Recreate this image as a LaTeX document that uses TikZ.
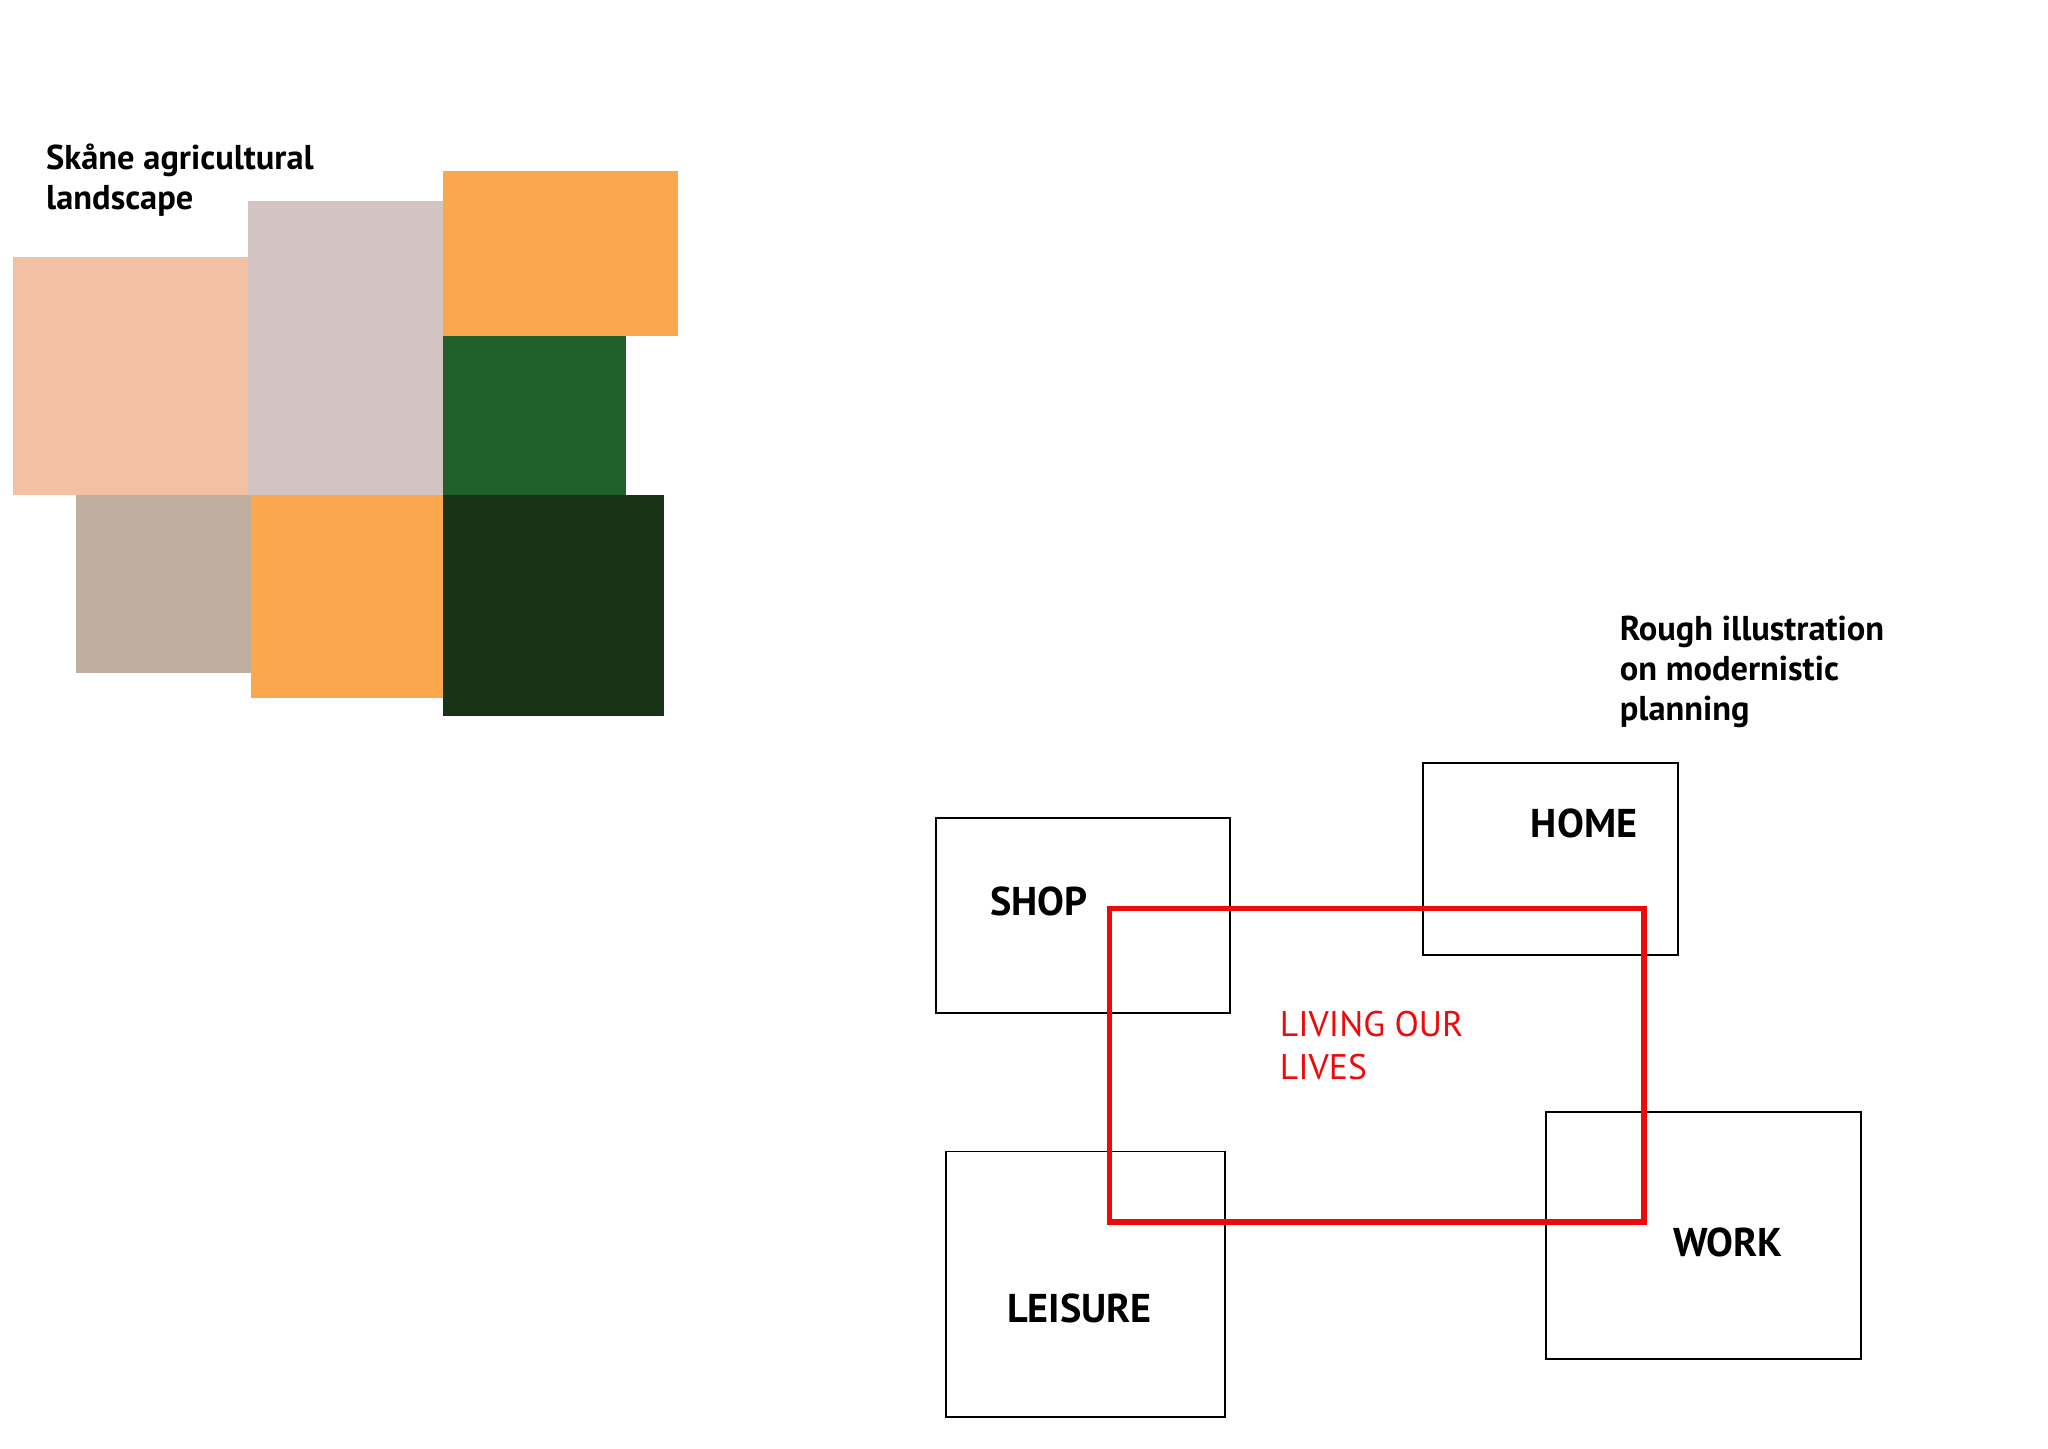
\documentclass[tikz,border=0pt]{standalone}
\usepackage{fontspec}
\setmainfont{PT Sans}
\begin{document}
\begin{tikzpicture}[x=0.02cm,y=-0.02cm,
  lbl/.style={font=\bfseries\fontsize{15}{17.5}\selectfont,align=left,anchor=north west,inner sep=0},
  box/.style={draw=black,line width=0.8pt},
  big/.style={font=\bfseries\fontsize{17.5}{20}\selectfont,inner sep=0}]
\useasboundingbox (0,0) rectangle (1567,1108);
\definecolor{peach}{HTML}{F4C0A4}\definecolor{mauve}{HTML}{D3C4C1}
\definecolor{orng}{HTML}{FAA74E}\definecolor{grn}{HTML}{21602A}
\definecolor{taupe}{HTML}{BDAE9F}\definecolor{dgrn}{HTML}{193317}
\definecolor{rred}{HTML}{EE0A0A}
\fill[peach] (10,197) rectangle (190,379);
\fill[mauve] (190,154) rectangle (339,379);
\fill[orng] (339,131) rectangle (519,257);
\fill[grn] (339,257) rectangle (479,379);
\fill[taupe] (58,379) rectangle (193,515);
\fill[orng] (192,379) rectangle (339,534);
\fill[dgrn] (339,379) rectangle (508,548);
\node[lbl] (t1) at (35,110) {Skåne agricultural\\landscape};
\node[lbl] (t2) at (1239,471) {Rough illustration\\on modernistic\\planning};
\draw[box] (716,626) rectangle (941,775);
\draw[box] (1089,584) rectangle (1284,731);
\draw[box] (1183,851) rectangle (1424,1040);
\draw[box] (724,881) rectangle (937,1084);
\draw[rred,line width=2.4pt] (849,695) rectangle (1258,935);
\node[big] (shop) at (795,690) {SHOP};
\node[big] (home) at (1212,630) {HOME};
\node[big] (work) at (1322,951) {WORK};
\node[big] (leis) at (826,1001) {LEISURE};
\node[text=rred,font=\fontsize{15.5}{19}\selectfont,align=left,anchor=north west,inner sep=0] (liv) at (979,773) {LIVING OUR\\LIVES};
\end{tikzpicture}
\end{document}
